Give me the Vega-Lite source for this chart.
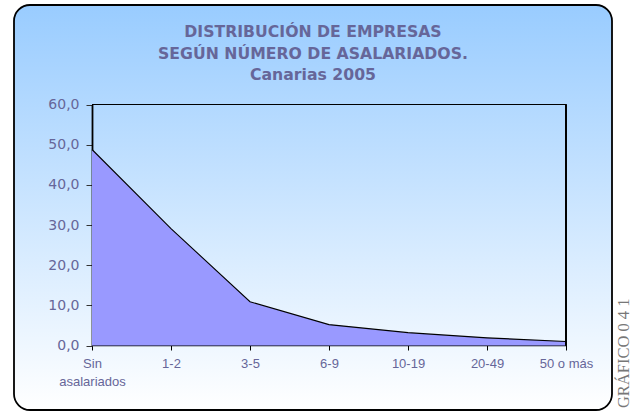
{
  "$schema": "https://vega.github.io/schema/vega-lite/v6.json",
  "autosize": "none",
  "width": 598,
  "height": 405,
  "padding": {"left": 14, "top": 5, "right": 22, "bottom": 2},
  "background": "white",
  "config": {
    "view": {
      "fill": {"gradient": "linear", "x1": 0, "y1": 0, "x2": 0, "y2": 1,
        "stops": [{"offset": 0, "color": "#99CCFF"}, {"offset": 1, "color": "#FFFFFF"}]},
      "stroke": "#000000",
      "strokeWidth": 1.8,
      "cornerRadius": 16
    }
  },
  "title": {
    "text": ["DISTRIBUCIÓN DE EMPRESAS", "SEGÚN NÚMERO DE ASALARIADOS.", "Canarias 2005"],
    "anchor": "middle",
    "frame": "group",
    "orient": "top",
    "baseline": "top",
    "offset": -79,
    "font": "DejaVu Sans",
    "fontSize": 15.7,
    "fontWeight": "bold",
    "color": "#666699",
    "lineHeight": 21.5
  },
  "data": {
    "values": [
      {"tramo": "Sin asalariados", "pct": 48.8},
      {"tramo": "1-2", "pct": 29.1},
      {"tramo": "3-5", "pct": 10.9},
      {"tramo": "6-9", "pct": 5.2},
      {"tramo": "10-19", "pct": 3.2},
      {"tramo": "20-49", "pct": 1.9},
      {"tramo": "50 o más", "pct": 1.0}
    ]
  },
  "encoding": {
    "x": {
      "field": "tramo",
      "type": "ordinal",
      "sort": null,
      "scale": {"type": "point", "range": [78, 552], "padding": 0},
      "axis": {
        "title": null,
        "offset": -65,
        "labelAngle": 0,
        "labelExpr": "datum.label == 'Sin asalariados' ? ['Sin', 'asalariados'] : datum.label",
        "labelFont": "Liberation Sans",
        "labelFontSize": 13,
        "labelColor": "#666699",
        "labelPadding": 7,
        "labelLineHeight": 18,
        "tickSize": 5,
        "tickColor": "#000000",
        "domainColor": "#000000",
        "domainWidth": 1.5,
        "grid": false
      }
    },
    "y": {
      "field": "pct",
      "type": "quantitative",
      "scale": {"domain": [0, 60], "range": [340.5, 99.5], "nice": false, "zero": true},
      "axis": {
        "values": [0, 10, 20, 30, 40, 50, 60],
        "labelExpr": "replace(format(datum.value, '.1f'), '.', ',')",
        "offset": -78,
        "labelFont": "DejaVu Sans",
        "labelFontSize": 14,
        "labelColor": "#666699",
        "labelPadding": 7,
        "tickSize": 6,
        "tickColor": "#333333",
        "domainColor": "#000000",
        "domainWidth": 1.8,
        "grid": false,
        "title": "GRÁFICO  0 4 1",
        "titleFont": "Liberation Serif",
        "titleFontSize": 16.5,
        "titleFontWeight": "normal",
        "titleColor": "#777777",
        "titleAngle": 270,
        "titleAlign": "right",
        "titleBaseline": "alphabetic",
        "titleX": 536,
        "titleY": 293
      }
    }
  },
  "layer": [
    {
      "mark": {"type": "area", "color": "#9999FF", "opacity": 1, "line": {"color": "#000000", "strokeWidth": 1.1}}
    },
    {
      "mark": {"type": "rule", "color": "#000000", "strokeWidth": 1},
      "encoding": {
        "x": {"datum": "Sin asalariados"},
        "x2": {"datum": "50 o más"},
        "y": {"datum": 60}
      }
    },
    {
      "mark": {"type": "rule", "color": "#000000", "strokeWidth": 1},
      "encoding": {
        "x": {"datum": "50 o más"},
        "y": {"datum": 0},
        "y2": {"datum": 60}
      }
    }
  ]
}
